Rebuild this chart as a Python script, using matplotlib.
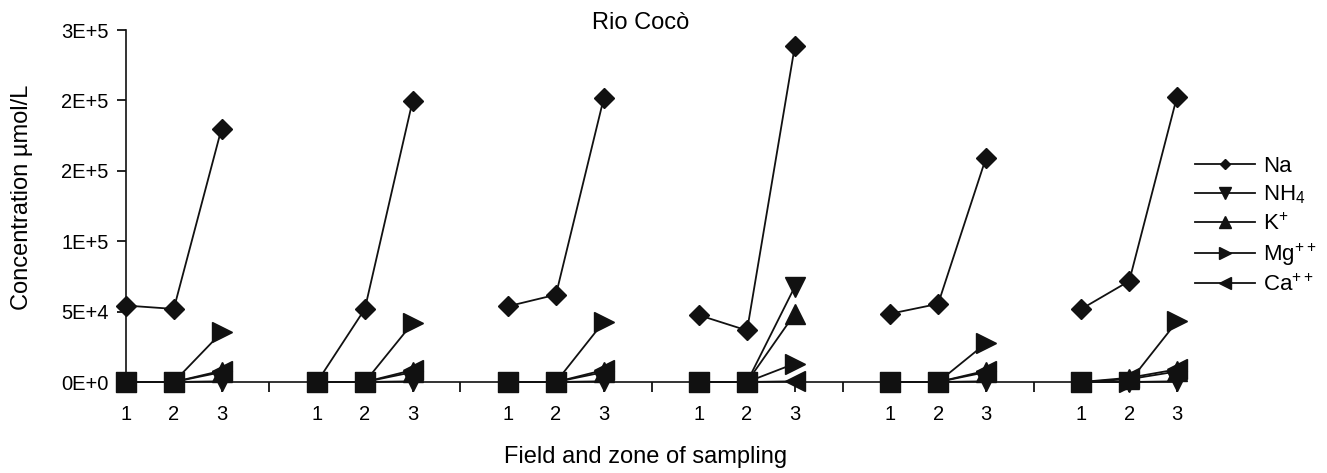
import numpy as np
import matplotlib
matplotlib.use("Agg")
import matplotlib.pyplot as plt

plt.rcParams['font.family'] = ['Liberation Sans', 'DejaVu Sans']
plt.rcParams['mathtext.default'] = 'regular'

# Dati (6 campi x 3 zone)
zones = ["1", "2", "3"]
n_fields = 6

na = [54300, 51900, 180000, 0, 51900, 199700, 53800, 62000, 201400,
      47400, 36600, 238500, 48500, 55500, 159000, 51900, 71700, 202600]
nh4 = [0, 0, 500, 0, 0, 500, 0, 0, 500,
       0, 0, 67700, 0, 0, 500, 0, 0, 500]
k = [0, 0, 7000, 0, 0, 7000, 0, 0, 7000,
     0, 0, 48500, 0, 0, 7000, 0, 2000, 7500]
mg = [0, 0, 35200, 0, 0, 41900, 0, 0, 42800,
      0, 0, 13100, 0, 0, 27500, 0, 0, 43000]
ca = [0, 0, 8000, 0, 0, 8500, 0, 0, 8500,
      0, 0, 500, 0, 0, 8000, 0, 3000, 9000]

series = [
    ("Na", na, "D", 10),
    ("NH$_4$", nh4, "v", 14.5),
    ("K$^{+}$", k, "^", 14.5),
    ("Mg$^{++}$", mg, ">", 14.5),
    ("Ca$^{++}$", ca, "<", 14.5),
]

yticks = [0, 50000, 100000, 150000, 200000, 250000]
ytick_labels = ["0E+0", "5E+4", "1E+5", "2E+5", "2E+5", "3E+5"]

fig = plt.figure(figsize=(13.27, 4.73), dpi=100)
ax = fig.add_axes([126 / 1327, 1 - 382 / 473, (1177 - 126) / 1327, (382 - 30) / 473])

# Ogni campo occupa 3 posizioni + 1 vuota di separazione
for name, vals, mk, ms in series:
    for g in range(n_fields):
        xs = [g * 4 + z for z in range(3)]
        ys = vals[g * 3:g * 3 + 3]
        ax.plot(xs, ys, color='#111111', lw=1.3, marker=mk, markersize=ms,
                clip_on=False, label=name if g == 0 else None)

ax.set_xlim(0, 22)
ax.set_ylim(0, 250000)

xt = list(range(23))
xl = []
for i in xt:
    xl.append("" if i % 4 == 3 else zones[i % 4])
ax.set_xticks(xt)
ax.set_xticklabels(xl)
ax.set_yticks(yticks)
ax.set_yticklabels(ytick_labels)

ax.tick_params(axis='x', direction='out', length=7.5, width=1.2, pad=9, labelsize=14.5)
ax.tick_params(axis='y', direction='out', length=6.5, width=1.2, pad=6, labelsize=14.5)

for s in ['top', 'right']:
    ax.spines[s].set_visible(False)
for s in ['left', 'bottom']:
    ax.spines[s].set_linewidth(1.2)
    ax.spines[s].set_color('#111111')

fig.text(641 / 1327, 1 - 23 / 473, "Rio Cocò", ha='center', va='center', fontsize=17)
fig.text(646 / 1327, 1 - 457 / 473, "Field and zone of sampling", ha='center', va='center', fontsize=17)
fig.text(22 / 1327, 1 - 197 / 473, "Concentration µmol/L", ha='center', va='center',
         rotation=90, fontsize=17)

ax.legend(loc='center left', bbox_to_anchor=(1195 / 1327, 1 - 226 / 473),
          bbox_transform=fig.transFigure, frameon=False, fontsize=16,
          handlelength=2.7, handletextpad=0.35, labelspacing=0.3, markerscale=0.55,
          borderaxespad=0, borderpad=0)

plt.savefig("out.png", dpi=100)
plt.close()
